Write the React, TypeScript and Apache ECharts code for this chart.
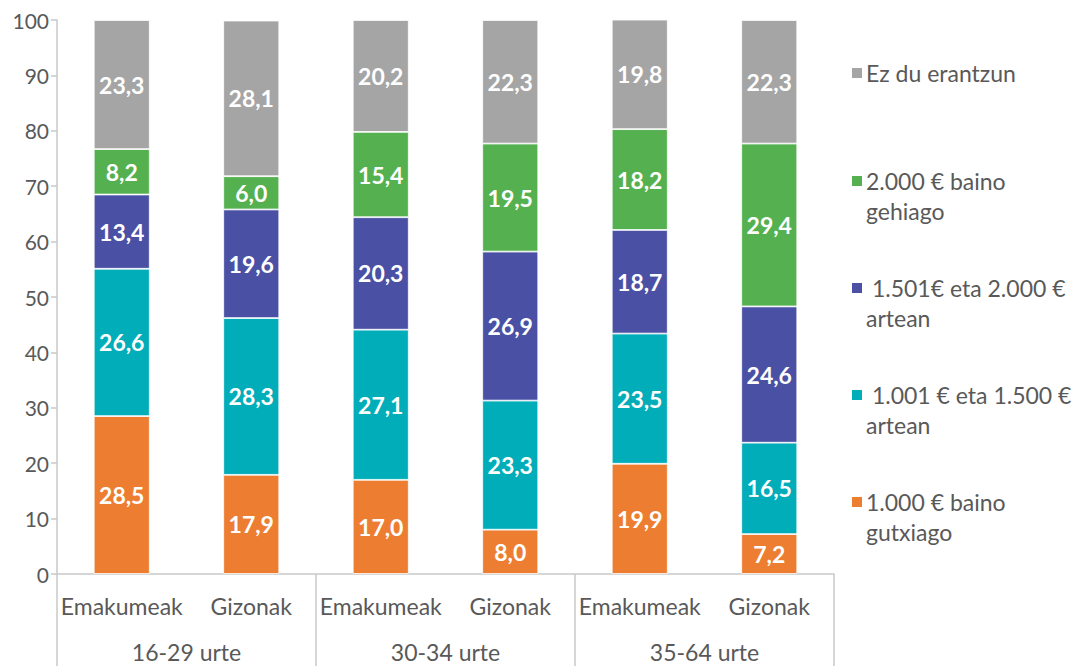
import React, { useEffect, useRef } from "react";
import * as echarts from "echarts";

const categories = ["Emakumeak", "Gizonak", "Emakumeak", "Gizonak", "Emakumeak", "Gizonak"];
const groups = ["16-29 urte", "30-34 urte", "35-64 urte"];

const seriesNames = [
  "1.000 € baino\ngutxiago",
  " 1.001 € eta 1.500 €\nartean",
  " 1.501€ eta 2.000 €\nartean",
  "2.000 € baino\ngehiago",
  "Ez du erantzun",
];
const seriesColors = ["#ED7D31", "#00ADB9", "#4A51A5", "#55B150", "#A5A5A5"];

const under1000 = [28.5, 17.9, 17.0, 8.0, 19.9, 7.2];
const from1001to1500 = [26.6, 28.3, 27.1, 23.3, 23.5, 16.5];
const from1501to2000 = [13.4, 19.6, 20.3, 26.9, 18.7, 24.6];
const over2000 = [8.2, 6.0, 15.4, 19.5, 18.2, 29.4];
const noAnswer = [23.3, 28.1, 20.2, 22.3, 19.8, 22.3];

const seriesData = [under1000, from1001to1500, from1501to2000, over2000, noAnswer];

const yTicks = [0, 10, 20, 30, 40, 50, 60, 70, 80, 90, 100];

const FONT = "Lato";
const GREY_TEXT = "#595959";
const AXIS_GREY = "#C9C9C9";

export default function App() {
  const ref = useRef<HTMLDivElement>(null);

  useEffect(() => {
    if (!ref.current) return;
    const chart = echarts.init(ref.current, undefined, { renderer: "svg" });

    const legendFirstLineY = [73, 180, 287, 394, 501];
    const legends = [4, 3, 2, 1, 0].map((si, i) => {
      const twoLine = seriesNames[si].includes("\n");
      return {
        show: true,
        orient: "vertical",
        left: 850,
        top: legendFirstLineY[i] - 15,
        data: [seriesNames[si]],
        selectedMode: false,
        itemWidth: 12,
        itemHeight: twoLine ? 60 : 12,
        itemGap: 6,
        icon: twoLine
          ? "path://M0,9h12v12h-12z M0,0h0.001v0.001h-0.001z M0,60h0.001v0.001h-0.001z"
          : "rect",
        padding: 0,
        textStyle: {
          fontFamily: FONT,
          fontSize: 23,
          color: GREY_TEXT,
          lineHeight: 30,
          padding: [0, 0, 0, -2],
        },
      };
    });

    chart.setOption({
      animation: false,
      backgroundColor: "#ffffff",
      legend: legends,
      grid: { left: 57, right: 239, top: 20, bottom: 92, containLabel: false },
      xAxis: [
        {
          type: "category",
          data: categories,
          position: "bottom",
          axisLine: { show: true, lineStyle: { color: AXIS_GREY, width: 1.5 } },
          axisTick: { show: false },
          axisLabel: {
            margin: 20,
            fontFamily: FONT,
            fontSize: 23,
            color: GREY_TEXT,
            interval: 0,
          },
        },
        {
          type: "category",
          data: groups,
          position: "bottom",
          axisLine: { show: false },
          axisTick: { show: true, length: 92, lineStyle: { color: AXIS_GREY, width: 1.5 } },
          axisLabel: {
            margin: 66,
            fontFamily: FONT,
            fontSize: 23,
            lineHeight: 24,
            color: GREY_TEXT,
            interval: 0,
          },
        },
      ],
      yAxis: {
        type: "value",
        min: yTicks[0],
        max: yTicks[yTicks.length - 1],
        interval: 10,
        splitLine: { show: false },
        axisLine: { show: true, lineStyle: { color: AXIS_GREY, width: 1.5 } },
        axisTick: { show: true, length: 6, lineStyle: { color: AXIS_GREY, width: 1.5 } },
        axisLabel: {
          margin: 8,
          fontFamily: FONT,
          fontSize: 21,
          color: GREY_TEXT,
        },
      },
      series: seriesData.map((d, i) => ({
        name: seriesNames[i],
        type: "bar",
        stack: "total",
        xAxisIndex: 0,
        barWidth: 56,
        data: d,
        itemStyle: { color: seriesColors[i], borderColor: "#ffffff", borderWidth: 0.8 },
        label: {
          show: true,
          position: "inside",
          fontFamily: FONT,
          fontWeight: "bold",
          fontSize: 23,
          color: "#ffffff",
          formatter: (p: any) => Number(p.value).toFixed(1).replace(".", ","),
        },
      })),
    });

    return () => chart.dispose();
  }, []);

  return (
    <div
      ref={ref}
      style={{ position: "fixed", left: 0, top: 0, width: 1073, height: 666 }}
    />
  );
}
